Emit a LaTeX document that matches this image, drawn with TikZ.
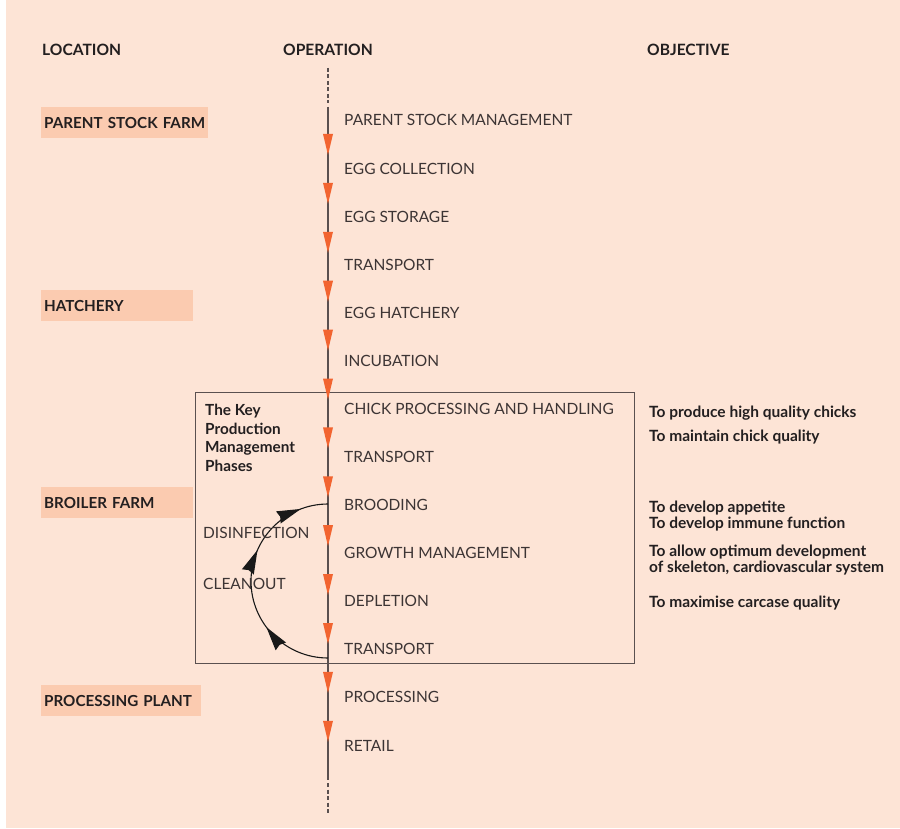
\documentclass[tikz,border=0pt]{standalone}
\usepackage{fontspec}
\setmainfont{Lato}
\usetikzlibrary{decorations.markings}
\definecolor{bgpeach}{RGB}{253,228,214}
\definecolor{locfill}{RGB}{251,203,176}
\definecolor{arrorange}{RGB}{242,100,48}
\definecolor{spinecol}{RGB}{90,80,80}
\definecolor{txtgray}{RGB}{60,52,52}
\definecolor{txtdark}{RGB}{35,31,32}
\tikzset{
  opnode/.style={anchor=base west, inner sep=0pt, text=txtgray, font=\fontsize{15.5}{18}\selectfont},
  hdr/.style={anchor=base west, inner sep=0pt, text=txtdark, font=\fontsize{15.6}{18}\selectfont\bfseries},
  locbox/.style={anchor=north west, fill=locfill, inner xsep=3pt, inner ysep=0pt, minimum height=31pt, align=left, text=txtdark, font=\fontsize{15.2}{18}\selectfont\bfseries},
  objnode/.style={anchor=base west, inner sep=0pt, text=txtdark, font=\fontsize{15.5}{16}\selectfont\bfseries},
  spine/.style={draw=spinecol, line width=1.4pt},
  spinedash/.style={draw=spinecol, line width=1.4pt, dash pattern=on 4pt off 2.5pt},
  tri/.style={fill=arrorange},
  cyclearc/.style={draw=black!90, line width=1.1pt,
    postaction={decorate, decoration={markings,
      mark=at position 0.295 with {\fill[black!90] (0pt,0pt) -- (-24pt,6.5pt) -- (-22pt,0pt) -- (-24pt,-6.5pt) -- cycle;},
      mark=at position 0.632 with {\fill[black!90] (0pt,0pt) -- (-24pt,6.5pt) -- (-22pt,0pt) -- (-24pt,-6.5pt) -- cycle;},
      mark=at position 0.885 with {\fill[black!90] (0pt,0pt) -- (-24pt,6.5pt) -- (-22pt,0pt) -- (-24pt,-6.5pt) -- cycle;}}}},
  phasebox/.style={draw=spinecol, line width=0.9pt}
}
\begin{document}
\begin{tikzpicture}[x=1pt,y=-1pt]
\useasboundingbox (0,0) rectangle (900,829);
\fill[bgpeach] (6,0) rectangle (900,828);

% headers
\node[hdr] (hloc) at (42,56) {LOCATION};
\node[hdr] (hop) at (283,56) {OPERATION};
\node[hdr] (hobj) at (647,56) {OBJECTIVE};

% location labels
\node[locbox, text width=161pt] (lpsf) at (41,107) {PARENT STOCK FARM};
\node[locbox, text width=146pt] (lhat) at (41,290) {HATCHERY};
\node[locbox, text width=146pt] (lbro) at (41,487) {BROILER FARM};
\node[locbox, text width=154pt] (lpro) at (41,685) {PROCESSING PLANT};

% phase box
\draw[phasebox] (195,392) rectangle (634,663);
\node[anchor=north west, inner sep=0pt, align=left, text=txtdark,
      font=\fontsize{15.3}{18.7}\selectfont\bfseries] (keyph) at (205,404)
  {The Key\\Production\\Management\\Phases};

% spine
\coordinate (sTop) at (328,68);
\coordinate (sTopEnd) at (328,103);
\coordinate (sStart) at (328,107);
\coordinate (sEnd) at (328,780);
\coordinate (sBotStart) at (328,783);
\coordinate (sBot) at (328,815);
\draw[spinedash] (sTop) -- (sTopEnd);
\draw[spine] (sStart) -- (sEnd);
\draw[spinedash] (sBotStart) -- (sBot);

% orange arrowheads
\foreach \i in {0,...,12}{
  \pgfmathsetmacro{\t}{155+\i*48.9}
  \coordinate (tip\i) at (328,\t);
  \fill[tri] ([xshift=-5pt,yshift=21pt]tip\i) -- ([xshift=5pt,yshift=21pt]tip\i) -- (tip\i) -- cycle;
}

% operations
\foreach \txt [count=\i from 0] in {PARENT STOCK MANAGEMENT, EGG COLLECTION, EGG STORAGE, TRANSPORT, EGG HATCHERY, INCUBATION, CHICK PROCESSING AND HANDLING, TRANSPORT, BROODING, GROWTH MANAGEMENT, DEPLETION, TRANSPORT, PROCESSING, RETAIL}{
  \pgfmathsetmacro{\b}{126+\i*48.08}
  \node[opnode] (op\i) at (344,\b) {\txt};
}

% cycle
\coordinate (cBot) at (328,658);
\draw[cyclearc] (cBot) arc[start angle=90, end angle=270, radius=77];
\node[opnode] (disinf) at (203,538) {DISINFECTION};
\node[opnode] (clean) at (203,589) {CLEANOUT};

% objectives
\node[objnode] (ob1) at (649,417) {To produce high quality chicks};
\node[objnode] (ob2) at (649,441) {To maintain chick quality};
\node[objnode] (ob3) at (649,512) {To develop appetite};
\node[objnode] (ob4) at (649,528) {To develop immune function};
\node[objnode] (ob5) at (649,556) {To allow optimum development};
\node[objnode] (ob6) at (649,572) {of skeleton, cardiovascular system};
\node[objnode] (ob7) at (649,607) {To maximise carcase quality};
\end{tikzpicture}
\end{document}
